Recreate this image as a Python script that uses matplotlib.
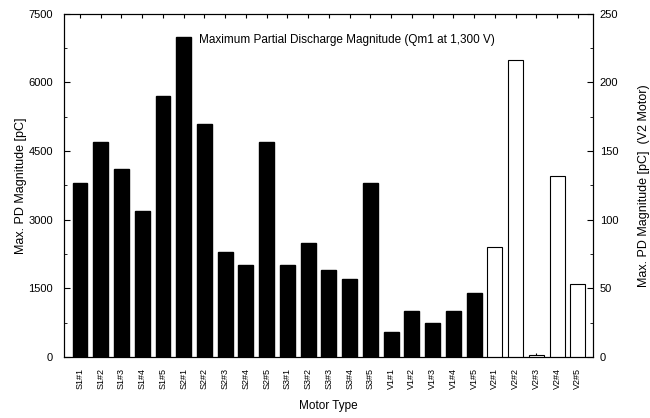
import matplotlib.pyplot as plt
from matplotlib.ticker import MultipleLocator

plt.rcParams["font.family"] = ["Liberation Sans", "DejaVu Sans"]

# motors measured against the left axis
motors = ["S1#1", "S1#2", "S1#3", "S1#4", "S1#5",
          "S2#1", "S2#2", "S2#3", "S2#4", "S2#5",
          "S3#1", "S3#2", "S3#3", "S3#4", "S3#5",
          "V1#1", "V1#2", "V1#3", "V1#4", "V1#5"]
pd_max = [3800, 4700, 4100, 3200, 5700,
          7000, 5100, 2300, 2000, 4700,
          2000, 2500, 1900, 1700, 3800,
          550, 1000, 750, 1000, 1400]

# V2 motor, plotted on the right axis
v2_motors = ["V2#1", "V2#2", "V2#3", "V2#4", "V2#5"]
v2_pd_max = [80, 216, 1.5, 132, 53]


def main():
    fig = plt.figure(figsize=(6.5, 4.18), dpi=100)
    ax = fig.add_axes([0.0985, 0.146, 0.8135, 0.821])

    n = len(motors)
    xs = list(range(n))
    v2_xs = list(range(n, n + len(v2_motors)))

    ax.bar(xs, pd_max, width=0.72, color="black", edgecolor="black")
    ax.set_xlim(-0.77, n + len(v2_motors) - 0.28)
    ax.set_ylim(0, 7500)
    ax.yaxis.set_major_locator(MultipleLocator(1500))
    ax.yaxis.set_minor_locator(MultipleLocator(750))
    ax.set_xticks(xs + v2_xs)
    ax.set_xticklabels(motors + v2_motors, rotation=90, fontsize=6.5)
    ax.tick_params(axis="y", which="both", direction="in", labelsize=8, pad=8)
    ax.tick_params(axis="y", which="major", length=4)
    ax.tick_params(axis="y", which="minor", length=2)
    ax.tick_params(axis="x", direction="in", length=3, top=True, pad=8)
    ax.set_ylabel("Max. PD Magnitude [pC]", fontsize=9, labelpad=1)
    ax.set_xlabel("Motor Type", fontsize=8.5, labelpad=8)

    ax2 = ax.twinx()
    ax2.bar(v2_xs, v2_pd_max, width=0.72, color="white",
            edgecolor="black", linewidth=0.8)
    ax2.set_ylim(0, 250)
    ax2.yaxis.set_major_locator(MultipleLocator(50))
    ax2.yaxis.set_minor_locator(MultipleLocator(25))
    ax2.tick_params(axis="y", which="both", direction="in", labelsize=8, pad=5)
    ax2.tick_params(axis="y", which="major", length=4)
    ax2.tick_params(axis="y", which="minor", length=2)
    ax2.set_ylabel("Max. PD Magnitude [pC]  (V2 Motor)", fontsize=9, labelpad=14)

    ax.text(0.535, 0.925, "Maximum Partial Discharge Magnitude (Qm1 at 1,300 V)",
            transform=ax.transAxes, ha="center", va="center", fontsize=8.5)

    fig.savefig("out.png", dpi=100)


if __name__ == "__main__":
    main()
